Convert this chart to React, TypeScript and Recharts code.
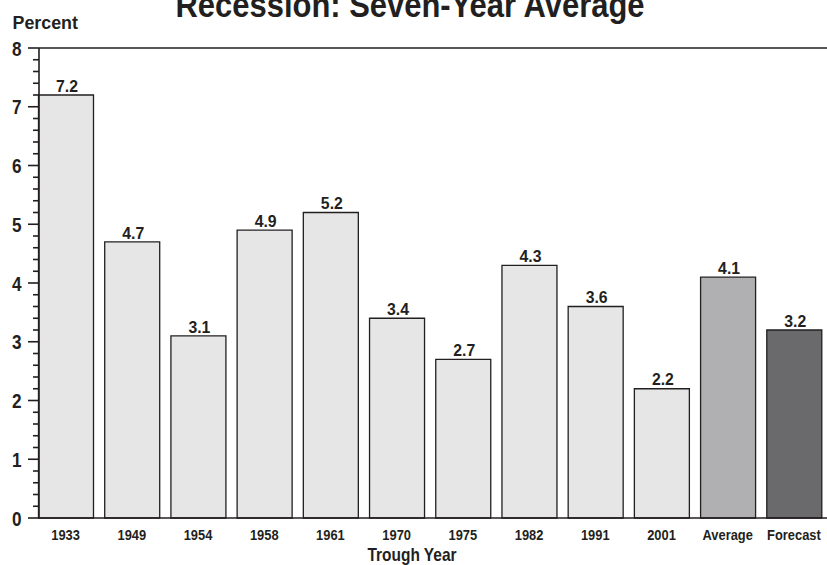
import React from 'react';
import { BarChart, Bar, XAxis, YAxis, Cell, LabelList, ReferenceLine } from 'recharts';

const categories = ['1933', '1949', '1954', '1958', '1961', '1970', '1975', '1982', '1991', '2001', 'Average', 'Forecast'];
const values = [7.2, 4.7, 3.1, 4.9, 5.2, 3.4, 2.7, 4.3, 3.6, 2.2, 4.1, 3.2];
const kinds = ['trough', 'trough', 'trough', 'trough', 'trough', 'trough', 'trough', 'trough', 'trough', 'trough', 'average', 'forecast'];
const yMajorTicks = [0, 1, 2, 3, 4, 5, 6, 7, 8];
const yMinorStep = 0.2;

const title = 'Recession: Seven-Year Average';
const yLabel = 'Percent';
const xLabel = 'Trough Year';

const FONT = '"Liberation Sans", Arial, Helvetica, sans-serif';
const INK = '#231f20';
const FILLS: Record<string, string> = { trough: '#e6e6e6', average: '#b0b0b2', forecast: '#6a6a6c' };

const data = categories.map((c, i) => ({ name: c, value: values[i], kind: kinds[i] }));

const yTicks: number[] = [];
for (let k = 0; k <= 8 / yMinorStep + 1e-9; k++) yTicks.push(Math.round(k * yMinorStep * 10) / 10);

const W = 827;
const H = 565;
const AXIS_W = 39;
const TICK_SIZE = 11;

type CTextProps = { x: number; y: number; size: number; sx: number; anchor?: 'start' | 'middle' | 'end'; children: React.ReactNode };
const CText = ({ x, y, size, sx, anchor = 'middle', children }: CTextProps) => (
  <text
    transform={`translate(${x} ${y}) scale(${sx} 1)`}
    textAnchor={anchor}
    fontFamily={FONT}
    fontWeight="bold"
    fontSize={size}
    fill={INK}
  >
    {children}
  </text>
);

const YTick = (props: any) => {
  const { x, y, payload } = props;
  const v = payload.value as number;
  const major = yMajorTicks.some((m) => Math.abs(m - v) < 1e-6);
  const axisX = x + TICK_SIZE;
  return (
    <g>
      <line x1={axisX - (major ? 11 : 6)} x2={axisX} y1={y} y2={y} stroke={INK} strokeWidth={1.6} />
      {major && (
        <CText x={axisX - 17.5} y={y + 7.5} size={19.5} sx={0.88} anchor="end">
          {v}
        </CText>
      )}
    </g>
  );
};

const XTick = (props: any) => {
  const { x, y, payload } = props;
  return (
    <CText x={x} y={y + 11} size={15} sx={0.86}>
      {payload.value}
    </CText>
  );
};

const ValueLabel = (props: any) => {
  const { x, y, width, value } = props;
  return (
    <CText x={x + width / 2 + 1} y={y - 3.3} size={17} sx={0.93}>
      {Number(value).toFixed(1)}
    </CText>
  );
};

export default function App() {
  return (
    <div style={{ position: 'absolute', left: 0, top: 0, width: W, height: H, overflow: 'hidden', background: '#fff' }}>
      <BarChart
        width={W}
        height={H}
        data={data}
        margin={{ top: 48, right: 0, bottom: 0, left: 0 }}
        barSize={55}
      >
        <ReferenceLine y={8} stroke={INK} strokeWidth={1.6} ifOverflow="visible" />
        <XAxis
          dataKey="name"
          height={47}
          padding={{ left: -6.5, right: 0 }}
          tickLine={false}
          tickSize={0}
          tickMargin={11}
          axisLine={{ stroke: INK, strokeWidth: 1.6 }}
          tick={<XTick />}
          interval={0}
        />
        <YAxis
          width={AXIS_W}
          domain={[0, 8]}
          ticks={yTicks}
          interval={0}
          tickLine={false}
          tickSize={TICK_SIZE}
          tickMargin={0}
          axisLine={{ stroke: INK, strokeWidth: 1.6 }}
          tick={<YTick />}
        />
        <Bar dataKey="value" isAnimationActive={false} stroke={INK} strokeWidth={1.3}>
          {data.map((d, i) => (
            <Cell key={i} fill={FILLS[d.kind]} />
          ))}
          <LabelList dataKey="value" content={<ValueLabel />} />
        </Bar>
      </BarChart>
      <svg width={W} height={H} style={{ position: 'absolute', left: 0, top: 0, pointerEvents: 'none' }}>
        <CText x={410} y={17} size={36} sx={0.86}>
          {title}
        </CText>
        <CText x={12.5} y={29} size={19} sx={0.94} anchor="start">
          {yLabel}
        </CText>
        <CText x={412} y={561} size={18} sx={0.86}>
          {xLabel}
        </CText>
      </svg>
    </div>
  );
}
